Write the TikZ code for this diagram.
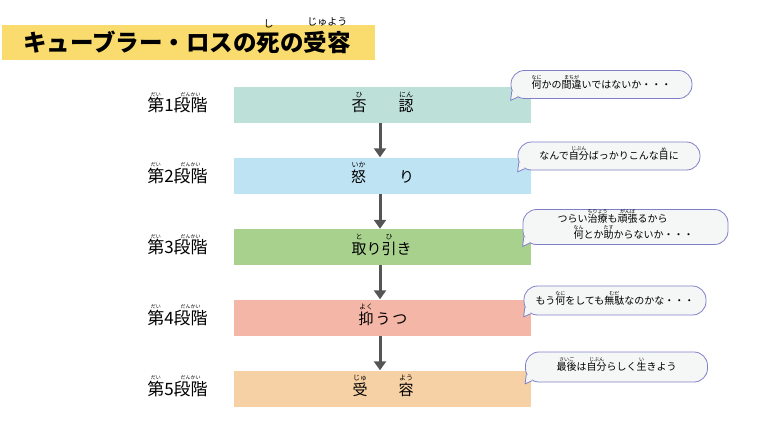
\documentclass[tikz,border=0pt]{standalone}
\usepackage{fontspec}
\setmainfont{Noto Sans CJK JP}
\usetikzlibrary{calc,arrows.meta}
\definecolor{titleyellow}{HTML}{F9DC6D}
\definecolor{boxA}{HTML}{BDE0D9}
\definecolor{boxB}{HTML}{BEE3F3}
\definecolor{boxC}{HTML}{A8D18D}
\definecolor{boxD}{HTML}{F4B6A7}
\definecolor{boxE}{HTML}{F7D1A6}
\definecolor{bubblefill}{HTML}{F5F6F6}
\definecolor{bubbleline}{HTML}{7F7FC8}
\definecolor{arrowgray}{HTML}{555555}
\newlength\rbgap
\setlength\rbgap{1pt}
\newsavebox\rbbase
\newcommand\rbfont{\fontsize{5}{5}\selectfont}
\newcommand\rb[2]{\leavevmode\sbox\rbbase{#1}\rlap{\smash{\raisebox{\dimexpr\ht\rbbase+\rbgap\relax}{\makebox[\wd\rbbase]{\rbfont #2}}}}\usebox\rbbase}
\newcommand\bubbletail[1]{%
  \fill[bubblefill] ($(#1.south west)+(1.2,-8)$) -- ($(#1.south west)+(0,1.5)$) -- ($(#1.south west)+(7,-1.7)$) -- ($(#1.south west)+(7,-6)$) -- cycle;
  \draw[bubbleline, line width=0.8pt, line join=round] ($(#1.south west)+(1.2,-8)$) -- ($(#1.south west)+(0,1.5)$) -- ($(#1.south west)+(7,-1.7)$);}
\tikzset{
  titlebox/.style={fill=titleyellow, minimum width=373pt, minimum height=35pt, inner sep=0pt,
    font={\fontsize{23.5}{23.5}\selectfont\bfseries\def\rbfont{\fontsize{10}{10}\selectfont\mdseries}\setlength\rbgap{6pt}}},
  stagebox/.style={minimum width=297pt, minimum height=36pt, inner sep=0pt},
  stagetext/.style={inner sep=0pt, font={\fontsize{15}{15}\selectfont\def\rbfont{\fontsize{7}{7}\selectfont}\setlength\rbgap{2.6pt}}},
  stagelabel/.style={inner sep=0pt, font={\fontsize{17}{17}\selectfont\def\rbfont{\fontsize{5}{5}\selectfont}\setlength\rbgap{1.3pt}}},
  bubble/.style={draw=bubbleline, fill=bubblefill, line width=0.8pt, rounded corners=13.5pt, inner sep=0pt,
    font={\fontsize{10}{16}\selectfont\def\rbfont{\fontsize{5}{5}\selectfont}\setlength\rbgap{0.8pt}}},
  flow/.style={draw=arrowgray, line width=3pt, -{Triangle[width=12pt,length=9pt]}}
}
\begin{document}
\begin{tikzpicture}[x=1pt,y=-1pt]
\useasboundingbox (0,0) rectangle (760,428);
% title
\node[titlebox] (title) at (188.5,42.5) {\hspace*{-3pt}\raisebox{-1pt}{キューブラー・ロスの\rb{死}{し}の\rb{受容}{じゅよう}}};
% stage boxes
\node[stagebox, fill=boxA] (s1) at (382.5,105) {};
\node[stagebox, fill=boxB] (s2) at (382.5,175.5) {};
\node[stagebox, fill=boxC] (s3) at (382.5,247) {};
\node[stagebox, fill=boxD] (s4) at (382.5,317.5) {};
\node[stagebox, fill=boxE] (s5) at (382.5,388.5) {};
% stage texts
\node[stagetext] (t1) at (382.5,106.5) {\rb{否}{ひ}\hspace{32pt}\rb{認}{にん}};
\node[stagetext] (t2) at (382.5,177) {\rb{怒}{いか}\hspace{33pt}り};
\node[stagetext] (t3) at (381.5,248.5) {\rb{取}{と}り\rb{引}{ひ}き};
\node[stagetext] (t4) at (383,319) {\rb{抑}{よく}\hspace{2pt}う\hspace{2pt}つ};
\node[stagetext] (t5) at (383,390) {\rb{受}{じゅ}\hspace{31pt}\rb{容}{よう}};
% stage labels
\node[stagelabel] (l1) at (177.5,105.5) {\rb{第}{だい}1\rb{段階}{だんかい}};
\node[stagelabel] (l2) at (177.5,176) {\rb{第}{だい}2\rb{段階}{だんかい}};
\node[stagelabel] (l3) at (177.5,247.5) {\rb{第}{だい}3\rb{段階}{だんかい}};
\node[stagelabel] (l4) at (177.5,318) {\rb{第}{だい}4\rb{段階}{だんかい}};
\node[stagelabel] (l5) at (177.5,389) {\rb{第}{だい}5\rb{段階}{だんかい}};
% arrows
\coordinate (ax) at (380,0);
\draw[flow] (s1.south -| ax) -- (s2.north -| ax);
\draw[flow] (s2.south -| ax) -- (s3.north -| ax);
\draw[flow] (s3.south -| ax) -- (s4.north -| ax);
\draw[flow] (s4.south -| ax) -- (s5.north -| ax);
% bubbles
\node[bubble, minimum width=181pt, minimum height=28pt] (b1) at (601.5,84.5) {\rb{何}{なに}かの\rb{間違}{まちが}いではないか・・・};
\node[bubble, minimum width=182pt, minimum height=28pt] (b2) at (609,156) {なんで\rb{自分}{じぶん}ばっかりこんな\rb{目}{め}に};
\node[bubble, minimum width=205pt, minimum height=35pt, align=left] (b3) at (625.5,227) {つらい\rb{治療}{ちりょう}も\rb{頑張}{がんば}るから\\\hspace*{16pt}\rb{何}{なん}とか\rb{助}{たす}からないか・・・};
\node[bubble, minimum width=182pt, minimum height=29pt] (b4) at (615,300.5) {もう\rb{何}{なに}をしても\rb{無駄}{むだ}なのかな・・・};
\node[bubble, minimum width=182pt, minimum height=30pt] (b5) at (616.5,367) {\rb{最後}{さいご}は\rb{自分}{じぶん}らしく\rb{生}{い}きよう};
\bubbletail{b1}
\bubbletail{b2}
\bubbletail{b3}
\bubbletail{b4}
\bubbletail{b5}
\end{tikzpicture}
\end{document}
